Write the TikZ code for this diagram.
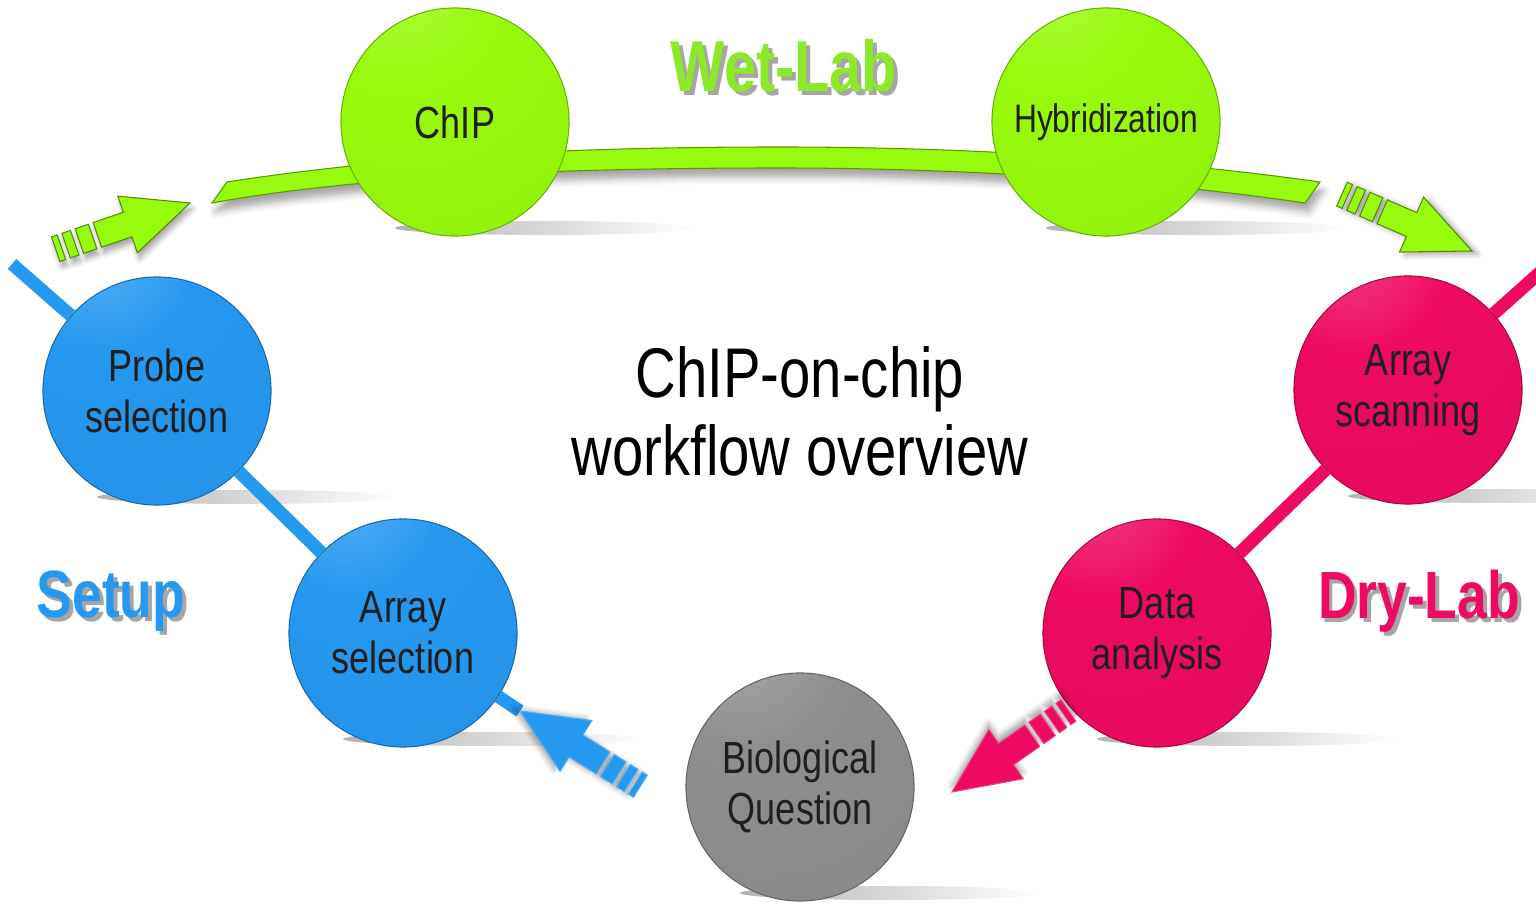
\documentclass[tikz,border=0pt]{standalone}
\usepackage{fontspec}
\setmainfont{Liberation Sans}[FakeStretch=0.8]
\usepackage{xcolor}
\usepackage{tikz}
\usetikzlibrary{shadows.blur, fadings}

\definecolor{wetc}{RGB}{152,250,12}
\definecolor{wettext}{RGB}{140,232,40}
\definecolor{setupc}{RGB}{38,152,240}
\definecolor{dryc}{RGB}{238,10,98}
\definecolor{askc}{RGB}{142,142,142}
\colorlet{sphc}{gray}

\pgfdeclareradialshading[sphc]{glossy}{\pgfqpoint{-15bp}{36bp}}{%
  color(0bp)=(sphc!30!white); color(9bp)=(sphc!85!white); color(20bp)=(sphc);
  color(70bp)=(sphc!94!black); color(95bp)=(sphc!84!black)}

\newcommand{\dropped}[2]{\rlap{\kern1.1pt\raisebox{-1.2pt}{\color{black!35}#2}}{\color{#1}#2}}

\begin{document}
\begin{tikzpicture}[
    x=0.01cm, y=0.01cm,
    stage/.style={circle, minimum size=2.28cm, inner sep=0pt, align=center, draw=#1!70!black, line width=0.3pt,
      text=black!88, font=\fontsize{12.8}{14.4}\selectfont, /utils/exec={\colorlet{sphc}{#1}}, shade, shading=glossy},
    floor/.style={fill=black, fill opacity=0.3, path fading=east},
    band/.style={fill=wetc, draw=wetc!60!black, line width=0.3pt,
      blur shadow={shadow xshift=1pt, shadow yshift=-2.5pt, shadow blur radius=2pt, shadow opacity=35}},
    link/.style={line width=0.13cm},
    lab/.style={font=\fontsize{19}{22}\selectfont\bfseries},
    pics/flow/.style 2 args={code={
      \path[pic actions, blur shadow={shadow xshift=#1, shadow yshift=#2, shadow blur radius=1.5pt, shadow opacity=35}]
        (0,0) -- (-66,30) -- (-66,13) -- (-98,13) -- (-98,-13) -- (-66,-13) -- (-66,-30) -- cycle
        (-103,13) rectangle (-117,-13)
        (-122,13) rectangle (-131,-13)
        (-136,13) rectangle (-142,-13);
    }}
]
\useasboundingbox (0,0) rectangle (1536,-907);

\coordinate (setupfree) at (12,-264);
\coordinate (setuptip) at (520,-711);
\coordinate (dryfree) at (1545,-268);
\coordinate (drytip) at (952,-792);
\coordinate (wetin) at (190,-203);
\coordinate (wetout) at (1472,-251);

\foreach \x/\y in {455/122, 1106/122, 157/391, 403/633, 1408/390, 1157/633, 800/787}
  \fill[floor] (\x+90,-\y-106) ellipse (150 and 7);

\fill[band] (227,-182) .. controls (420,-152) and (620,-147) .. (780,-147)
  .. controls (960,-147) and (1150,-158) .. (1320,-182) -- (1305,-203)
  .. controls (1150,-180) and (960,-168) .. (780,-168)
  .. controls (620,-168) and (380,-172) .. (212,-203) -- cycle;

\node[stage=wetc] (chip) at (455,-122) {ChIP};
\node[stage=wetc, font=\fontsize{11.3}{13}\selectfont] (hyb) at (1106,-122) {Hybridization};
\node[stage=setupc] (probe) at (157,-391) {Probe\\selection};
\node[stage=setupc] (asel) at (403,-633) {Array\\selection};
\node[stage=dryc] (scan) at (1408,-390) {Array\\scanning};
\node[stage=dryc] (data) at (1157,-633) {Data\\analysis};
\node[stage=askc] (bio) at (800,-787) {Biological\\Question};

\draw[link, setupc] (setupfree) -- (probe) -- (asel) -- (setuptip);
\draw[link, dryc] (dryfree) -- (scan) -- (data);

\pic[rotate=19, fill=wetc, draw=wetc!55!black, line width=0.3pt] at (wetin) {flow={0.6pt}{-1.7pt}};
\pic[rotate=-23.6, fill=wetc, draw=wetc!55!black, line width=0.3pt] at (wetout) {flow={1.6pt}{-0.85pt}};
\pic[rotate=148, fill=setupc, draw=setupc!80!white, line width=0.3pt] at (setuptip) {flow={-1.7pt}{0.6pt}};
\pic[rotate=-145, fill=dryc, draw=dryc!80!white, line width=0.3pt] at (drytip) {flow={-0.1pt}{1.8pt}};

\node[font=\fontsize{20}{22.2}\selectfont, align=center] (title) at (800,-411) {ChIP-on-chip\\workflow overview};
\node[lab, font=\fontsize{20.5}{24}\selectfont\bfseries] (wetlab) at (784,-68) {\dropped{wettext}{Wet-Lab}};
\node[lab] (setup) at (111,-603) {\dropped{setupc}{Setup}};
\node[lab] (drylab) at (1419,-603) {\dropped{dryc}{Dry-Lab}};
\end{tikzpicture}
\end{document}
